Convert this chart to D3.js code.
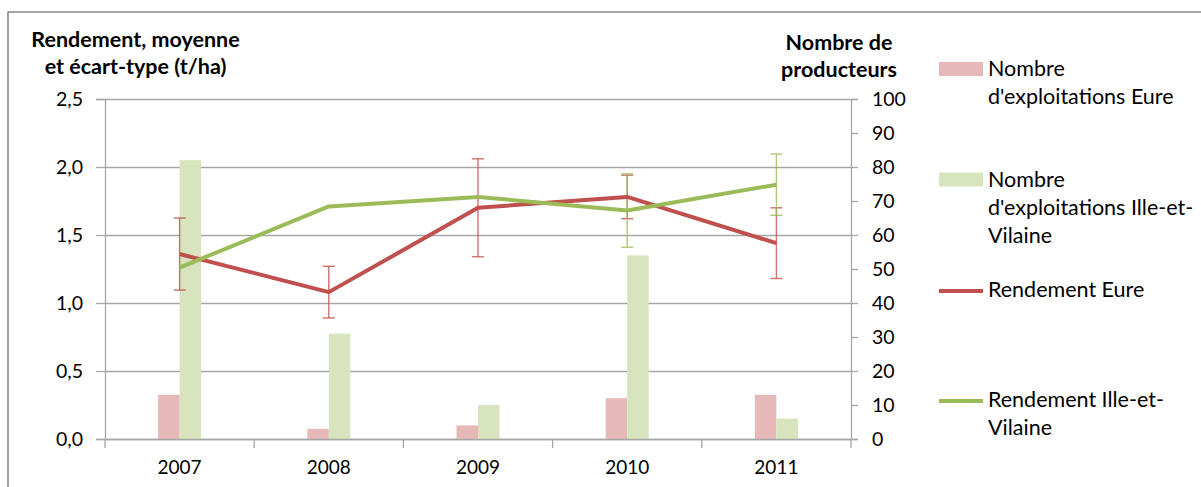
<!DOCTYPE html>
<html><head><meta charset="utf-8">
<script src="https://cdn.jsdelivr.net/npm/d3@7"></script>
<style>body{margin:0;background:#fff} text{font-family:Lato, sans-serif;fill:#000}</style>
</head><body><svg id="c" width="1201" height="487"></svg>
<script>
const years = ["2007","2008","2009","2010","2011"];
const nbEure = [13, 3, 4, 12, 13];
const nbIV = [82, 31, 10, 54, 6];
const rdtEure = [1.36, 1.08, 1.70, 1.78, 1.44];
const sdEure = [0.265, 0.19, 0.36, 0.16, 0.26];
const rdtIV = [1.26, 1.71, 1.78, 1.68, 1.87];
const sdIV = [null, null, null, 0.27, 0.225];
const leftTicks = [0, 0.5, 1, 1.5, 2, 2.5];
const rightTicks = [0,10,20,30,40,50,60,70,80,90,100];
const leftTitle = ["Rendement, moyenne", "et écart-type (t/ha)"];
const rightTitle = ["Nombre de", "producteurs"];
const legendLabels = [["Nombre","d'exploitations Eure"],["Nombre","d'exploitations Ille-et-","Vilaine"],["Rendement Eure"],["Rendement Ille-et-","Vilaine"]];

const svg = d3.select("#c");
const L = 105, R = 851, T = 99, B = 439;
const gridCol = "#a6a6a6";
const cBarE = "#e6b9b8", cBarI = "#d7e4bd", cLineE = "#c0504d", cLineI = "#9bbb59";

const x = d3.scaleBand().domain(years).range([L, R]);
const xs = d3.scaleBand().domain(["e","i"]).range([0, x.bandwidth()]).paddingOuter(2.47);
const yL = d3.scaleLinear().domain([0, 2.5]).range([B, T]);
const yR = d3.scaleLinear().domain([0, 100]).range([B, T]);

// border
svg.append("path").attr("d", "M8,487V12H1201").attr("fill","none").attr("stroke","#868686").attr("stroke-width",1.5);

// gridlines
svg.append("g").selectAll("line").data(leftTicks).join("line")
  .attr("x1", L).attr("x2", R).attr("y1", d=>yL(d)+0.5).attr("y2", d=>yL(d)+0.5)
  .attr("stroke", gridCol).attr("stroke-width", 1.3);

// bars
const bars = svg.append("g");
bars.selectAll(".be").data(years).join("rect")
  .attr("x", d=>x(d)+xs("e")).attr("width", xs.bandwidth())
  .attr("y", (d,i)=>yR(nbEure[i])).attr("height", (d,i)=>B-yR(nbEure[i])).attr("fill", cBarE);
bars.selectAll(".bi").data(years).join("rect")
  .attr("x", d=>x(d)+xs("i")).attr("width", xs.bandwidth())
  .attr("y", (d,i)=>yR(nbIV[i])).attr("height", (d,i)=>B-yR(nbIV[i])).attr("fill", cBarI);

// axes
const fmt = d => d3.format(".1f")(d).replace(".", ",");
const ga = svg.append("g").attr("transform", `translate(${L},0)`)
  .call(d3.axisLeft(yL).tickValues(leftTicks).tickSize(9).tickPadding(13).tickFormat(fmt));
const gr = svg.append("g").attr("transform", `translate(${R},0)`)
  .call(d3.axisRight(yR).tickValues(rightTicks).tickSize(7).tickPadding(14));
const gx = svg.append("g").attr("transform", `translate(0,${B})`)
  .call(d3.axisBottom(x).tickSize(0).tickPadding(22));
// category boundary ticks
const bounds = years.map(d=>x(d)).concat([x.range()[1]]);
svg.append("g").selectAll("line").data(bounds).join("line")
  .attr("x1", d=>d).attr("x2", d=>d).attr("y1", B).attr("y2", B+9)
  .attr("stroke", gridCol).attr("stroke-width", 1.3);
[ga, gr, gx].forEach(g => {
  g.select(".domain").attr("stroke", gridCol).attr("stroke-width", 1.3);
  g.selectAll(".tick line").attr("stroke", gridCol).attr("stroke-width", 1.3);
  g.selectAll("text").attr("font-size", 19.5).attr("font-family", "Lato").attr("fill", "#000");
});
gx.selectAll("text").attr("font-size", 19);
gx.select(".domain").attr("d", `M${L},0.5H${R}`);

// error bars
function errBars(vals, sds, col, op) {
  const g = svg.append("g").attr("stroke", col).attr("stroke-opacity", op).attr("stroke-width", 1.4);
  years.forEach((yr, i) => {
    if (sds[i] == null) return;
    const cx = x(yr) + x.bandwidth()/2;
    const y1 = yL(vals[i] + sds[i]), y2 = yL(vals[i] - sds[i]);
    g.append("line").attr("x1", cx).attr("x2", cx).attr("y1", y1).attr("y2", y2);
    g.append("line").attr("x1", cx-6).attr("x2", cx+6).attr("y1", y1).attr("y2", y1);
    g.append("line").attr("x1", cx-6).attr("x2", cx+6).attr("y1", y2).attr("y2", y2);
  });
}
errBars(rdtEure, sdEure, cLineE, 0.8);
errBars(rdtIV, sdIV, cLineI, 0.8);

// lines
const line = d3.line().x((d,i)=>x(years[i]) + x.bandwidth()/2).y(d=>yL(d));
svg.append("path").datum(rdtEure).attr("d", line).attr("fill","none").attr("stroke", cLineE).attr("stroke-width", 4).attr("stroke-linejoin","round");
svg.append("path").datum(rdtIV).attr("d", line).attr("fill","none").attr("stroke", cLineI).attr("stroke-width", 4).attr("stroke-linejoin","round");

// axis titles
const tl = svg.append("text").attr("font-size", 21.5).attr("font-weight", "bold").attr("text-anchor", "middle");
leftTitle.forEach((t,i)=> tl.append("tspan").attr("x", 135.5).attr("y", 46.5 + i*27.5).text(t));
const tr = svg.append("text").attr("font-size", 21.5).attr("font-weight", "bold").attr("text-anchor", "middle");
rightTitle.forEach((t,i)=> tr.append("tspan").attr("x", 839).attr("y", 49.5 + i*27.5).text(t));

// legend
const lg = svg.append("g");
const baseY = [76, 186.5, 296.5, 406.5];
const lineH = 28;
legendLabels.forEach((lines, k) => {
  const b = baseY[k];
  if (k < 2) {
    lg.append("rect").attr("x", 939).attr("y", b-14).attr("width", 44).attr("height", 14).attr("fill", k===0?cBarE:cBarI);
  } else {
    lg.append("line").attr("x1", 939).attr("x2", 983).attr("y1", b-5.5).attr("y2", b-5.5).attr("stroke", k===2?cLineE:cLineI).attr("stroke-width", 4);
  }
  const t = lg.append("text").attr("font-size", 21.5);
  lines.forEach((s,j)=> t.append("tspan").attr("x", 988).attr("y", b + j*lineH).text(s));
});
</script></body></html>
